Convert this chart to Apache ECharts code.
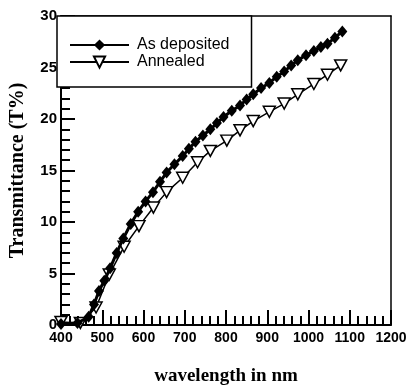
<!DOCTYPE html>
<html>
<head>
<meta charset="utf-8">
<script src="https://cdn.jsdelivr.net/npm/echarts@6/dist/echarts.min.js"></script>
<style>
  html, body { margin: 0; padding: 0; background: #fff; }
  #chart { width: 417px; height: 391px; }
</style>
</head>
<body>
<div id="chart"></div>
<script>
// values
var depositedWave = [400, 440, 467, 480, 492, 505, 519, 535, 551, 569, 587, 605, 623, 640, 656, 675, 695, 710, 726, 744, 762, 778, 794, 814, 834, 850, 866, 885, 905, 923, 941, 958, 974, 994, 1013, 1030, 1046, 1064, 1082];
var depositedT = [0.1, 0.2, 0.8, 2.0, 3.3, 4.3, 5.5, 7.0, 8.4, 9.8, 11.0, 12.0, 12.9, 13.9, 14.8, 15.6, 16.4, 17.1, 17.8, 18.4, 19.0, 19.6, 20.2, 20.8, 21.3, 21.9, 22.4, 23.0, 23.5, 24.1, 24.6, 25.2, 25.7, 26.2, 26.6, 27.0, 27.3, 27.9, 28.5];

var annealedWave = [400, 447, 485, 517, 553, 589, 624, 656, 695, 731, 762, 802, 834, 866, 905, 941, 974, 1013, 1046, 1078];
var annealedT = [0.3, 0.2, 1.7, 4.9, 7.6, 9.6, 11.4, 12.9, 14.3, 15.8, 16.9, 17.9, 18.9, 19.8, 20.7, 21.5, 22.4, 23.4, 24.3, 25.2];

var seriesNames = ['As deposited', 'Annealed'];

function pairs(xs, ys) {
  var out = [];
  for (var i = 0; i < xs.length; i++) out.push([xs[i], ys[i]]);
  return out;
}

// plain frame line for the top and right sides
function frameAxis(pos, min, max) {
  return {
    type: 'value', position: pos, min: min, max: max,
    axisLine: { show: true, onZero: false, lineStyle: { color: '#000', width: 1.5 } },
    axisTick: { show: false },
    axisLabel: { show: false },
    splitLine: { show: false }
  };
}

var chart = echarts.init(document.getElementById('chart'));
chart.setOption({
  animation: false,
  backgroundColor: '#fff',
  grid: { left: 57, top: 16, right: 26, bottom: 50 },
  legend: {
    data: seriesNames,
    orient: 'vertical',
    left: 57, top: 16,
    padding: [21, 22, 17, 12],
    itemGap: 1,
    itemWidth: 59,
    itemHeight: 14,
    borderColor: '#000',
    borderWidth: 1.5,
    backgroundColor: '#fff',
    textStyle: {
      fontFamily: 'Liberation Sans, Arial',
      fontSize: 16,
      color: '#000',
      lineHeight: 14,
      padding: [0, 0, 0, 3]
    }
  },
  xAxis: [{
    type: 'value',
    min: 400, max: 1200, interval: 100,
    name: 'wavelength in nm',
    nameLocation: 'middle',
    nameGap: 42,
    nameTextStyle: {
      fontFamily: 'Liberation Serif, Times New Roman',
      fontWeight: 'bold',
      fontSize: 19,
      color: '#000'
    },
    axisLine: { lineStyle: { color: '#000', width: 2 } },
    axisTick: { show: true, inside: true, length: 15, lineStyle: { color: '#000', width: 2 } },
    minorTick: { show: true, splitNumber: 5, length: 9, lineStyle: { color: '#000', width: 2 } },
    axisLabel: {
      fontFamily: 'Liberation Sans, Arial',
      fontWeight: 'bold',
      fontSize: 14,
      color: '#000',
      margin: 6,
      formatter: function (v) { return String(v); }
    },
    splitLine: { show: false }
  }, frameAxis('top', 400, 1200)],
  yAxis: [{
    type: 'value',
    min: 0, max: 30, interval: 5,
    name: 'Transmittance (T%)',
    nameLocation: 'middle',
    nameGap: 33,
    nameTextStyle: {
      fontFamily: 'Liberation Serif, Times New Roman',
      fontWeight: 'bold',
      fontSize: 20,
      color: '#000'
    },
    axisLine: { show: true, lineStyle: { color: '#000', width: 2 } },
    axisTick: { show: true, inside: true, length: 14, lineStyle: { color: '#000', width: 2 } },
    minorTick: { show: true, splitNumber: 5, length: 9, lineStyle: { color: '#000', width: 2 } },
    axisLabel: {
      fontFamily: 'Liberation Sans, Arial',
      fontWeight: 'bold',
      fontSize: 15,
      color: '#000',
      margin: 4
    },
    splitLine: { show: false }
  }, frameAxis('right', 0, 30)],
  series: [
    {
      name: seriesNames[0],
      type: 'line',
      data: pairs(depositedWave, depositedT),
      symbol: 'diamond',
      symbolSize: [10, 12],
      showAllSymbol: true,
      itemStyle: { color: '#000' },
      lineStyle: { color: '#000', width: 3 },
      z: 3
    },
    {
      name: seriesNames[1],
      type: 'line',
      data: pairs(annealedWave, annealedT),
      symbol: 'triangle',
      symbolRotate: 180,
      symbolSize: [12, 11],
      showAllSymbol: true,
      itemStyle: { color: '#fff', borderColor: '#000', borderWidth: 1.5 },
      lineStyle: { color: '#000', width: 1.5 },
      z: 2
    }
  ]
});
</script>
</body>
</html>
